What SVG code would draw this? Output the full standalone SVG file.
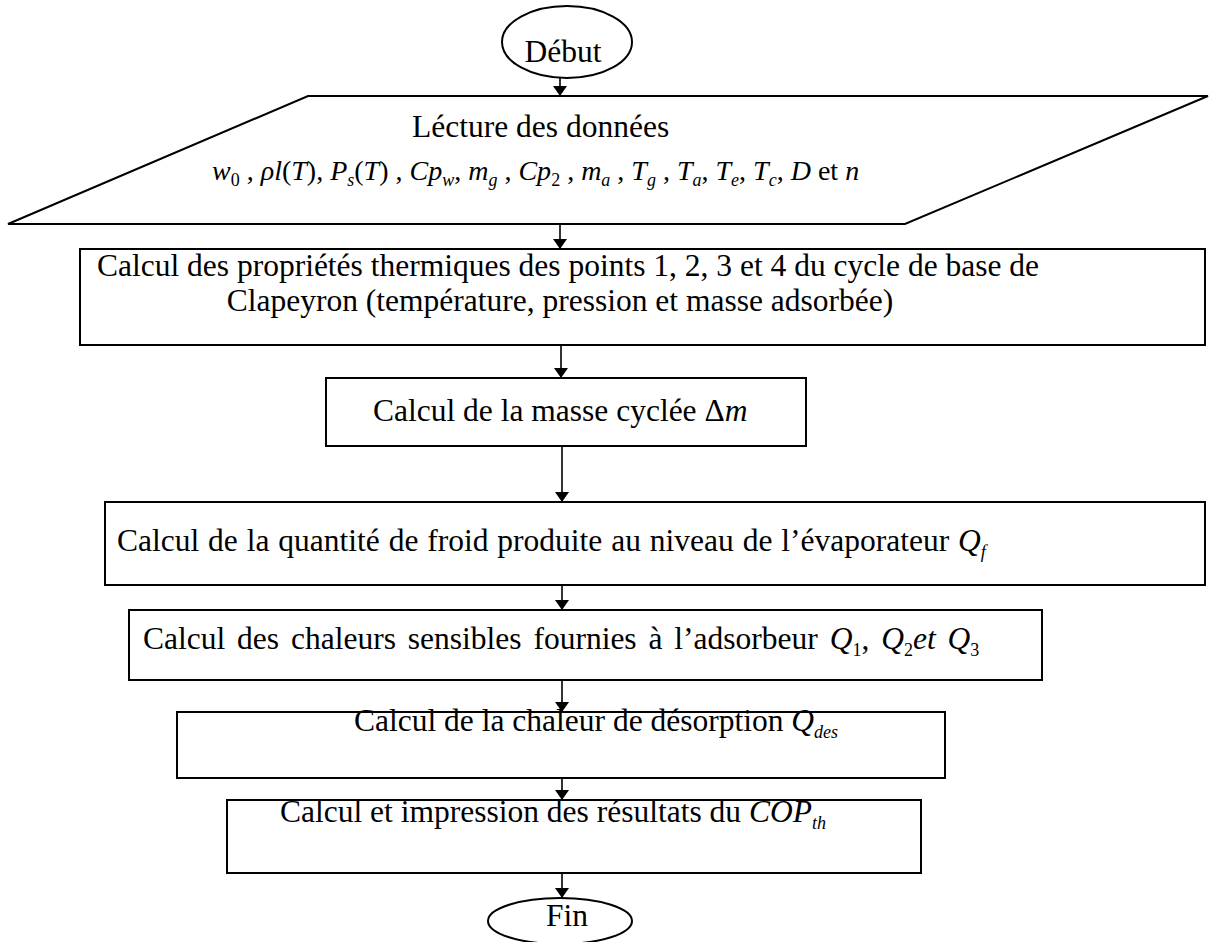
<svg xmlns="http://www.w3.org/2000/svg" width="1210" height="942" viewBox="0 0 1210 942">
  <style>
    .shape { fill: #ffffff; stroke: #000000; stroke-width: 2; }
    .t { font-family: "Liberation Serif", "Times New Roman", serif; font-size: 31.5px; fill: #000000; }
    .m { font-size: 28px; }
    .i { font-style: italic; }
    .s { font-size: 18px; }
    .conn line { stroke: #000000; stroke-width: 1.6; marker-end: url(#arrow); }
  </style>
  <defs>
    <marker id="arrow" viewBox="0 0 10 14" refX="10" refY="7" markerUnits="userSpaceOnUse" markerWidth="10" markerHeight="14" orient="auto">
      <path d="M0,0 L10,7 L0,14 Z" fill="#000000"/>
    </marker>
  </defs>
  <rect width="1210" height="942" fill="#ffffff"/>

  <!-- start terminal -->
  <g id="debut">
    <ellipse class="shape" cx="567" cy="42" rx="65" ry="36"/>
    <text class="t" x="563" y="62" text-anchor="middle" font-size="32">Début</text>
  </g>

  <!-- input data (parallelogram) -->
  <g id="lecture">
    <polygon class="shape" points="308,96 1208,96 905,224 8,224"/>
    <text class="t" x="412" y="137" font-size="30">Lécture des données</text>
    <text class="t m" x="212" y="180"><tspan class="i">w</tspan><tspan class="s" dy="6">0</tspan><tspan dy="-6"> , </tspan><tspan class="i">ρl</tspan>(<tspan class="i">T</tspan>), <tspan class="i">P</tspan><tspan class="s i" dy="6">s</tspan><tspan dy="-6">(</tspan><tspan class="i">T</tspan>) , <tspan class="i">Cp</tspan><tspan class="s i" dy="6">w</tspan><tspan dy="-6">, </tspan><tspan class="i">m</tspan><tspan class="s i" dy="6">g</tspan><tspan dy="-6"> , </tspan><tspan class="i">Cp</tspan><tspan class="s" dy="6">2</tspan><tspan dy="-6"> , </tspan><tspan class="i">m</tspan><tspan class="s i" dy="6">a</tspan><tspan dy="-6"> , </tspan><tspan class="i">T</tspan><tspan class="s i" dy="6">g</tspan><tspan dy="-6"> , </tspan><tspan class="i">T</tspan><tspan class="s i" dy="6">a</tspan><tspan dy="-6">, </tspan><tspan class="i">T</tspan><tspan class="s i" dy="6">e</tspan><tspan dy="-6">, </tspan><tspan class="i">T</tspan><tspan class="s i" dy="6">c</tspan><tspan dy="-6">, </tspan><tspan class="i">D</tspan> et <tspan class="i">n</tspan></text>
  </g>

  <!-- Clapeyron cycle points -->
  <g id="proprietes">
    <rect class="shape" x="80" y="249" width="1125" height="96"/>
    <text class="t" x="568" y="276" text-anchor="middle">Calcul des propriétés thermiques des points 1, 2, 3 et 4 du cycle de base de</text>
    <text class="t" x="560" y="311" text-anchor="middle">Clapeyron (température, pression et masse adsorbée)</text>
  </g>

  <g id="masse">
    <rect class="shape" x="326" y="378" width="480" height="68"/>
    <text class="t" x="373" y="421">Calcul de la masse cyclée Δ<tspan class="i">m</tspan></text>
  </g>

  <g id="froid">
    <rect class="shape" x="105" y="502" width="1100" height="83"/>
    <text class="t" x="117" y="551" font-size="31.8" word-spacing="1">Calcul de la quantité de froid produite au niveau de l’évaporateur <tspan class="i">Q</tspan><tspan class="s i" dy="7">f</tspan></text>
  </g>

  <g id="sensibles">
    <rect class="shape" x="129" y="610" width="913" height="70"/>
    <text class="t" x="143" y="649" font-size="32.5" word-spacing="4">Calcul des chaleurs sensibles fournies à l’adsorbeur  <tspan class="i">Q</tspan><tspan class="s" dy="7">1</tspan><tspan dy="-7">, </tspan><tspan class="i">Q</tspan><tspan class="s" dy="7">2</tspan><tspan class="i" dy="-7">et </tspan><tspan class="i">Q</tspan><tspan class="s" dy="7">3</tspan></text>
  </g>

  <g id="desorption">
    <rect class="shape" x="177" y="712" width="768" height="66"/>
    <text class="t" x="354" y="731">Calcul de la chaleur de désorption <tspan class="i">Q</tspan><tspan class="s i" dy="7">des</tspan></text>
  </g>

  <g id="resultats">
    <rect class="shape" x="227" y="800" width="694" height="73"/>
    <text class="t" x="280" y="822">Calcul et impression des résultats du <tspan class="i">COP</tspan><tspan class="s i" dy="7">th</tspan></text>
  </g>

  <!-- end terminal -->
  <g id="fin">
    <ellipse class="shape" cx="560" cy="921" rx="72" ry="23"/>
    <text class="t" x="567" y="926" text-anchor="middle" font-size="30">Fin</text>
  </g>

  <g id="connectors" class="conn">
    <line x1="560" y1="78" x2="560" y2="96"/>
    <line x1="560" y1="224" x2="560" y2="249"/>
    <line x1="561" y1="345" x2="561" y2="378"/>
    <line x1="562" y1="446" x2="562" y2="502"/>
    <line x1="562" y1="585" x2="562" y2="610"/>
    <line x1="562" y1="680" x2="562" y2="712"/>
    <line x1="562" y1="778" x2="562" y2="800"/>
    <line x1="562" y1="873" x2="562" y2="898"/>
  </g>
</svg>
